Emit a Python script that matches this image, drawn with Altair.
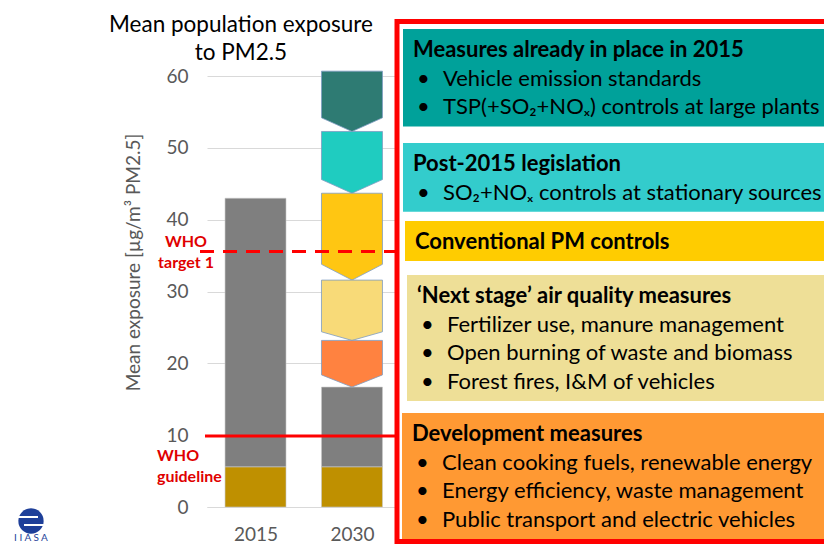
import altair as alt
import pandas as pd

# ---------------- data ----------------
years = ["2015", "2030"]
natural_base = [5.6, 5.6]          # lower (gold) part of each bar
remaining_total = [43.0, 16.7]     # top of the grey part of each bar

measure_titles = [
    "Measures already in place in 2015",
    "Post-2015 legislation",
    "Conventional PM controls",
    "\u2018Next stage\u2019 air quality measures",
    "Development measures",
]
measure_bullets = [
    ["Vehicle emission standards", "TSP(+SO\u2082+NO\u2093) controls at large plants"],
    ["SO\u2082+NO\u2093 controls at stationary sources"],
    [],
    ["Fertilizer use, manure management", "Open burning of waste and biomass",
     "Forest fires, I&M of vehicles"],
    ["Clean cooking fuels, renewable energy", "Energy efficiency, waste management",
     "Public transport and electric vehicles"],
]
# top of each 2030 chevron segment (each one ends at the next one's top)
measure_tops_2030 = [60.7, 52.3, 43.7, 31.6, 23.2]

who_levels = [35.6, 9.9]
who_line1 = ["WHO", "WHO"]
who_line2 = ["target 1", "guideline"]

y_ticks = [0, 10, 20, 30, 40, 50, 60]
title_lines = ["Mean population exposure", "to PM2.5"]
y_title = "Mean exposure [\u00b5g/m\u00b3 PM2.5]"
logo_text = "I I A S A"

# ---------------- style / layout ----------------
FONT = "Lato"
BASE_COLOR = "#BF9000"
GREY = "#7F7F7F"
CHEV_COLORS = ["#2E7B73", "#1FCCC0", "#FFC612", "#F8DA78", "#FF8240"]
BOX_COLORS = ["#00A19A", "#33CCCC", "#FFCC00", "#EEDF97", "#FF9933"]
RED = "#FF0000"
LABEL_RED = "#E00000"
AXIS_GREY = "#595959"

W, H = 188, 438
PAD = {"left": 199, "top": 61, "right": 429, "bottom": 37}
OX, OY = 8 + PAD["left"], 8 + PAD["top"]       # page position of plot origin
X_DOMAIN = [0.497, 2.446]
HALF = 0.316
CHEV_DEPTH = [1.9, 1.9, 2.2, 1.2, 1.7]

BOX_TOP = [29, 143, 221, 275, 413]
BOX_LEFT = [403, 403, 405, 407, 402]
BOX_RIGHT = 845
BOX_PADY = 20
LINE_H = 28.7

xs = alt.Scale(domain=X_DOMAIN, nice=False, zero=False)
ys = alt.Scale(domain=[0, 61], nice=False, zero=False)
# pixel scales for annotation layers (identity mapping onto the plot frame)
pxs = alt.Scale(domain=[0, W], range=[0, W], nice=False, zero=False, clamp=False)
pys = alt.Scale(domain=[0, H], range=[0, H], nice=False, zero=False, clamp=False)


def PX(field):
    return alt.X(field, type="quantitative", scale=pxs, axis=None)


def PY(field):
    return alt.Y(field, type="quantitative", scale=pys, axis=None)


# ---------------- tables ----------------
bar_rows = []
for i, yr in enumerate(years):
    c = i + 1
    bar_rows.append(dict(x0=c - HALF, x1=c + HALF, y0=0, y1=natural_base[i], fill=BASE_COLOR))
    bar_rows.append(dict(x0=c - HALF, x1=c + HALF, y0=natural_base[i], y1=remaining_total[i], fill=GREY))
bars_df = pd.DataFrame(bar_rows)

chev_rows = []
c2030 = years.index("2030") + 1
for j, top in enumerate(measure_tops_2030):
    bottom = measure_tops_2030[j + 1] if j + 1 < len(measure_tops_2030) else remaining_total[1]
    d = CHEV_DEPTH[j]
    for k, (xx, yy) in enumerate([(c2030 - HALF, bottom + d), (c2030, bottom), (c2030 + HALF, bottom + d)]):
        chev_rows.append(dict(seg=j, k=k, x=xx, ylo=yy, yhi=top, fill=CHEV_COLORS[j]))
chev_df = pd.DataFrame(chev_rows)

box_rows, head_rows, dot_rows, bul_rows = [], [], [], []
for j, t in enumerate(measure_titles):
    n = 1 + len(measure_bullets[j])
    top = BOX_TOP[j]
    h = 2 * BOX_PADY + (n - 1) * LINE_H
    box_rows.append(dict(x0=BOX_LEFT[j] - OX, x1=BOX_RIGHT - OX, y0=top - OY, y1=top + h - OY, fill=BOX_COLORS[j]))
    head_rows.append(dict(x=BOX_LEFT[j] + 10 - OX, y=top + BOX_PADY + 1 - OY, text=t))
    for k, b in enumerate(measure_bullets[j]):
        yy = top + BOX_PADY + 1 + (k + 1) * LINE_H - OY
        dot_rows.append(dict(x=BOX_LEFT[j] + 14 - OX, y=yy, text="\u2022"))
        bul_rows.append(dict(x=BOX_LEFT[j] + 40 - OX, y=yy, text=b))
box_df = pd.DataFrame(box_rows)
head_df = pd.DataFrame(head_rows)
dot_df = pd.DataFrame(dot_rows)
bul_df = pd.DataFrame(bul_rows)

# ---------------- axes ----------------
label_expr = "[" + ",".join("'%s'" % y for y in years) + "][datum.value - 1]"
x_axis = alt.Axis(values=[1, 2], labelExpr=label_expr, grid=False, ticks=False, domain=True,
                  domainColor="#D9D9D9", domainWidth=1, labelFont=FONT, labelFontSize=19,
                  labelColor=AXIS_GREY, labelPadding=18, title=None)
y_axis = alt.Axis(values=y_ticks, grid=True, gridColor="#D9D9D9", gridWidth=1, domain=False,
                  ticks=False, labelFont=FONT, labelFontSize=19, labelColor=AXIS_GREY,
                  labelPadding=19, title=y_title, titleFont=FONT, titleFontSize=19,
                  titleFontWeight="normal", titleColor=AXIS_GREY, titleX=-74, titleY=193,
                  titleAngle=270, titleAlign="center", titleBaseline="middle")

bars = alt.Chart(bars_df).mark_rect(stroke="#C8C8C8", strokeWidth=0.6).encode(
    x=alt.X("x0:Q", scale=xs, axis=x_axis),
    x2="x1:Q",
    y=alt.Y("y0:Q", scale=ys, axis=y_axis),
    y2="y1:Q",
    color=alt.Color("fill:N", scale=None),
)

chev = alt.Chart(chev_df).mark_area(stroke="#7E9CC2", strokeWidth=0.8, interpolate="linear",
                                    orient="vertical").encode(
    x=alt.X("x:Q", scale=xs, axis=None),
    y=alt.Y("ylo:Q", scale=ys, axis=None, stack=None),
    y2="yhi:Q",
    detail="seg:N",
    color=alt.Color("fill:N", scale=None),
)

who_df = pd.DataFrame({"level": who_levels, "l1": who_line1, "l2": who_line2})
target_line = alt.Chart(who_df.iloc[[0]]).mark_rule(color=RED, strokeWidth=3, strokeDash=[14, 9]).encode(
    y=alt.Y("level:Q", scale=ys, axis=None), x=alt.value(-7), x2=alt.value(190))
guide_line = alt.Chart(who_df.iloc[[1]]).mark_rule(color=RED, strokeWidth=3).encode(
    y=alt.Y("level:Q", scale=ys, axis=None), x=alt.value(-2), x2=alt.value(190))

tgt_lab = pd.DataFrame({"x": [186 - OX, 186 - OX], "y": [242 - OY, 263 - OY],
                        "text": [who_line1[0], who_line2[0]]})
gdl_lab = pd.DataFrame({"x": [157 - OX, 157 - OX], "y": [456 - OY, 477 - OY],
                        "text": [who_line1[1], who_line2[1]]})
tgt_text = alt.Chart(tgt_lab).mark_text(font=FONT, fontSize=16, fontWeight="bold", color=LABEL_RED,
                                        align="center", baseline="middle").encode(
    x=PX("x"), y=PY("y"), text="text:N")
gdl_text = alt.Chart(gdl_lab).mark_text(font=FONT, fontSize=16, fontWeight="bold", color=LABEL_RED,
                                        align="left", baseline="middle").encode(
    x=PX("x"), y=PY("y"), text="text:N")

title_df = pd.DataFrame({"x": [241 - OX, 241 - OX], "y": [25 - OY, 53 - OY], "text": title_lines})
title = alt.Chart(title_df).mark_text(font=FONT, fontSize=22.5, color="#000000", align="center",
                                      baseline="middle").encode(
    x=PX("x"), y=PY("y"), text="text:N")

boxes = alt.Chart(box_df).mark_rect().encode(
    x=PX("x0"), x2="x1:Q", y=PY("y0"), y2="y1:Q",
    color=alt.Color("fill:N", scale=None))
heads = alt.Chart(head_df).mark_text(font=FONT, fontSize=22, fontWeight="bold", color="#000000",
                                     align="left", baseline="middle").encode(
    x=PX("x"), y=PY("y"), text="text:N")
dots = alt.Chart(dot_df).mark_text(font=FONT, fontSize=22, color="#000000", align="left",
                                   baseline="middle").encode(
    x=PX("x"), y=PY("y"), text="text:N")
buls = alt.Chart(bul_df).mark_text(font=FONT, fontSize=22, color="#000000", align="left",
                                   baseline="middle").encode(
    x=PX("x"), y=PY("y"), text="text:N")

frame = alt.Chart(pd.DataFrame({"a": [0]})).mark_rect(filled=False, stroke=RED, strokeWidth=5).encode(
    x=alt.value(397 - OX), x2=alt.value(860 - OX), y=alt.value(21.5 - OY), y2=alt.value(541.5 - OY))

# logo
logo_df = pd.DataFrame({"x": [31 - OX], "y": [521 - OY]})
logo = alt.Chart(logo_df).mark_point(filled=True, shape="circle", size=640, color="#1E3F99", opacity=1).encode(
    x=PX("x"), y=PY("y"))
stripe_df = pd.DataFrame({"x0": [17 - OX, 24 - OX], "x1": [38 - OX, 46 - OX],
                          "y": [517 - OY, 525 - OY]})
stripes = alt.Chart(stripe_df).mark_rule(color="white", strokeWidth=2).encode(
    x=PX("x0"), x2="x1:Q", y=PY("y"))
logo_t = alt.Chart(pd.DataFrame({"x": [31 - OX], "y": [543 - OY], "text": [logo_text]})).mark_text(
    font=FONT, fontSize=10, color="#1E3F99", align="center", baseline="bottom").encode(
    x=PX("x"), y=PY("y"), text="text:N")

chart = alt.layer(
    bars, chev, target_line, guide_line, tgt_text, gdl_text, title,
    boxes, heads, dots, buls, frame, logo, stripes, logo_t
).resolve_scale(
    x="independent", y="independent"
).properties(
    width=W, height=H, autosize=alt.AutoSizeParams(type="none"), padding=PAD, background="white"
).configure_view(stroke=None)

chart.save("out.html", embed_options={"renderer": "svg", "actions": False})
